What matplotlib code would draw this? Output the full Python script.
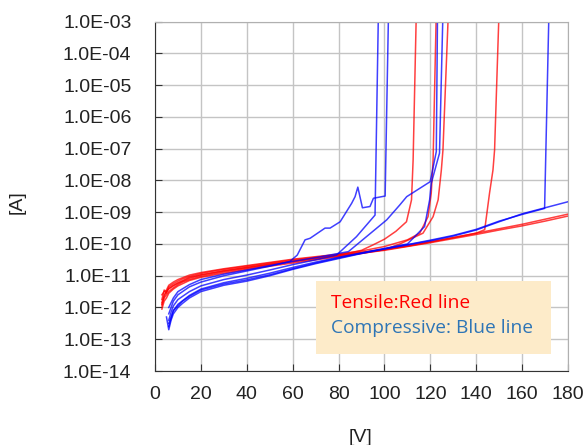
import numpy as np
import matplotlib.pyplot as plt
from matplotlib.patches import Rectangle

# I-V curves, current stored as log10(I [A])
v_base = [3, 4, 5, 6, 8, 10, 12, 15, 20, 25, 30, 40, 50, 60, 70, 80, 90,
          100, 110, 120, 130, 140, 150, 160, 170, 180]

# red (tensile) samples
red_a_v = v_base
red_a = [-11.75, -11.45, -11.55, -11.35, -11.25, -11.17, -11.1, -11.02, -10.93, -10.86,
         -10.8, -10.7, -10.6, -10.5, -10.42, -10.34, -10.26, -10.17, -10.06, -9.93,
         -9.8, -9.66, -9.52, -9.38, -9.22, -9.06]
red_b_v = v_base
red_b = [-11.95, -11.7, -11.6, -11.5, -11.38, -11.28, -11.2, -11.12, -11.02, -10.95,
         -10.88, -10.77, -10.66, -10.56, -10.47, -10.38, -10.29, -10.2, -10.08, -9.96,
         -9.83, -9.7, -9.56, -9.43, -9.28, -9.12]
red_c_v = [3, 4, 5, 6, 8, 10, 15, 20, 30, 40, 50, 60, 70, 80, 90, 95, 100, 105,
           109.6, 111.8, 112.5, 113.8]
red_c = [-11.85, -11.6, -11.5, -11.4, -11.3, -11.22, -11.05, -10.97, -10.84, -10.74,
         -10.64, -10.55, -10.45, -10.35, -10.2, -10.03, -9.85, -9.6, -9.3, -8.61, -7.35, -3.0]
red_d_v = [3, 4, 5, 6, 8, 10, 15, 20, 30, 40, 50, 60, 70, 80, 90, 100, 110, 115.4,
           119, 120.4, 121.2, 122.5]
red_d = [-11.6, -11.5, -11.45, -11.3, -11.2, -11.12, -10.98, -10.9, -10.78, -10.68,
         -10.58, -10.48, -10.4, -10.32, -10.22, -10.08, -9.87, -9.66, -9.14, -8.4, -7.35, -3.0]
red_e_v = [3, 4, 5, 6, 8, 10, 15, 20, 30, 40, 50, 60, 70, 80, 90, 100, 106.7, 116.8,
           121.2, 123.4, 124.8, 125.5, 127.7]
red_e = [-12.05, -11.8, -11.7, -11.55, -11.42, -11.32, -11.15, -11.05, -10.92, -10.8,
         -10.7, -10.6, -10.5, -10.4, -10.3, -10.18, -10.0, -9.66, -9.14, -8.61, -7.67, -7.04, -3.0]
red_f_v = [3, 4, 5, 6, 8, 10, 15, 20, 30, 40, 50, 60, 70, 80, 90, 100, 110, 120,
           130, 140, 143.7, 145.8, 147.3, 148, 149.8]
red_f = [-11.9, -11.65, -11.5, -11.42, -11.32, -11.24, -11.08, -10.98, -10.85, -10.74,
         -10.63, -10.53, -10.44, -10.36, -10.27, -10.18, -10.07, -9.94, -9.8, -9.66,
         -9.55, -8.4, -7.67, -7.04, -3.0]

# blue (compressive) samples
blue_a_v = [5, 6, 7, 8, 10, 12, 15, 20, 25, 30, 40, 50, 60, 70, 80, 90, 100, 110,
            120, 130, 140, 150, 160, 170, 180]
blue_a = [-12.3, -12.7, -12.4, -12.2, -12.0, -11.87, -11.7, -11.5, -11.4, -11.3,
          -11.17, -11.0, -10.8, -10.62, -10.46, -10.3, -10.16, -10.03, -9.9, -9.75,
          -9.56, -9.3, -9.05, -8.86, -8.67]
blue_b_v = [6, 7, 8, 10, 12, 15, 20, 30, 40, 50, 60, 70, 80, 90, 100, 110, 120, 130,
            140, 150, 160, 169.8, 171.6]
blue_b = [-12.5, -12.3, -12.1, -11.95, -11.8, -11.65, -11.45, -11.26, -11.13, -10.97,
          -10.78, -10.6, -10.44, -10.29, -10.15, -10.02, -9.88, -9.73, -9.54, -9.28,
          -9.07, -8.88, -3.0]
blue_c_v = [6, 7, 8, 10, 15, 20, 30, 40, 50, 58.8, 62, 65.4, 67.6, 74.1, 76.3, 80.7,
            85.7, 87.2, 88.4, 90.4, 93.7, 95.2, 100.3, 101.7]
blue_c = [-12.2, -12.0, -11.8, -11.6, -11.35, -11.2, -11.0, -10.85, -10.7, -10.55,
          -10.35, -9.87, -9.82, -9.5, -9.5, -9.3, -8.72, -8.51, -8.21, -8.86, -8.82,
          -8.56, -8.49, -3.0]
blue_d_v = [6, 7, 8, 10, 15, 20, 30, 40, 50, 60, 70, 79.1, 87.8, 95.9, 97.3]
blue_d = [-12.4, -12.15, -11.95, -11.75, -11.5, -11.32, -11.12, -10.98, -10.82, -10.65,
          -10.5, -10.35, -9.77, -9.09, -3.0]
blue_e_v = [6, 7, 8, 10, 15, 20, 30, 40, 50, 60, 70, 84.3, 101, 106.7, 109.7, 119.9,
            120.4, 122.6, 123.1]
blue_e = [-12.0, -11.85, -11.7, -11.5, -11.28, -11.12, -10.95, -10.82, -10.68, -10.55,
          -10.43, -10.24, -9.24, -8.77, -8.51, -8.04, -7.88, -7.09, -3.0]
blue_f_v = [6, 7, 8, 10, 15, 20, 30, 40, 50, 60, 70, 80, 90, 100, 110, 112.5, 117.5,
            119.7, 120.4, 124, 125.4]
blue_f = [-12.6, -12.35, -12.1, -11.9, -11.62, -11.42, -11.22, -11.08, -10.92, -10.74,
          -10.57, -10.42, -10.28, -10.14, -10.0, -9.82, -9.45, -8.61, -8.09, -7.14, -3.0]

red_curves = [(red_a_v, red_a), (red_b_v, red_b), (red_c_v, red_c),
              (red_d_v, red_d), (red_e_v, red_e), (red_f_v, red_f)]
blue_curves = [(blue_a_v, blue_a), (blue_b_v, blue_b), (blue_c_v, blue_c),
               (blue_d_v, blue_d), (blue_e_v, blue_e), (blue_f_v, blue_f)]

y_exps = list(range(-14, -2))
x_ticks = [0, 20, 40, 60, 80, 100, 120, 140, 160, 180]

fig = plt.figure(figsize=(5.85, 4.45), dpi=100)
ax = fig.add_axes([155 / 585, 74 / 445, 413 / 585, 349.3 / 445])

for v, lg in red_curves:
    ax.plot(v, 10.0 ** np.array(lg), color='#ff0000', lw=1.1, alpha=0.75)
for v, lg in blue_curves:
    ax.plot(v, 10.0 ** np.array(lg), color='#0000ff', lw=1.1, alpha=0.75)

ax.set_yscale('log')
ax.set_xlim(0, 180)
ax.set_ylim(1e-14, 1e-3)
ax.set_yticks([10.0 ** e for e in y_exps])
ax.set_yticklabels(['1.0E%03d' % e for e in y_exps])
ax.yaxis.set_minor_locator(plt.NullLocator())
ax.set_xticks(x_ticks)
ax.set_xticklabels([str(t) for t in x_ticks])

ax.grid(True, color='#c4c4c4', lw=1.0)
ax.set_axisbelow(True)
ax.tick_params(axis='y', direction='in', length=5, pad=17, labelsize=14, colors='#333333')
ax.tick_params(axis='x', direction='in', length=5, pad=11, labelsize=14, colors='#333333')
ax.tick_params(labelcolor='#222222')
for s in ['left', 'bottom']:
    ax.spines[s].set_color('#333333')
for s in ['top', 'right']:
    ax.spines[s].set_color('#b0b0b0')

for lab in ax.get_xticklabels() + ax.get_yticklabels():
    lab.set_family('Liberation Sans')

# legend-like note box
ax.add_patch(Rectangle((0.389, 0.049), 0.569, 0.209, transform=ax.transAxes,
                       facecolor='#fdebc9', edgecolor='none', zorder=3))
ax.text(0.425, 0.195, 'Tensile:Red line', transform=ax.transAxes, color='#ff0000',
        fontsize=13.8, family='Open Sans', va='center', zorder=4)
ax.text(0.425, 0.123, 'Compressive: Blue line', transform=ax.transAxes, color='#2e75b6',
        fontsize=13.8, family='Open Sans', va='center', zorder=4)

fig.text(17 / 585, 1 - 202 / 445, '[A]', rotation=90, ha='center', va='center',
         fontsize=14, family='Liberation Sans', color='#222222')
fig.text(360 / 585, 1 - 437 / 445, '[V]', ha='center', va='center',
         fontsize=14, family='Liberation Sans', color='#222222')

fig.savefig('out.png', dpi=100)
